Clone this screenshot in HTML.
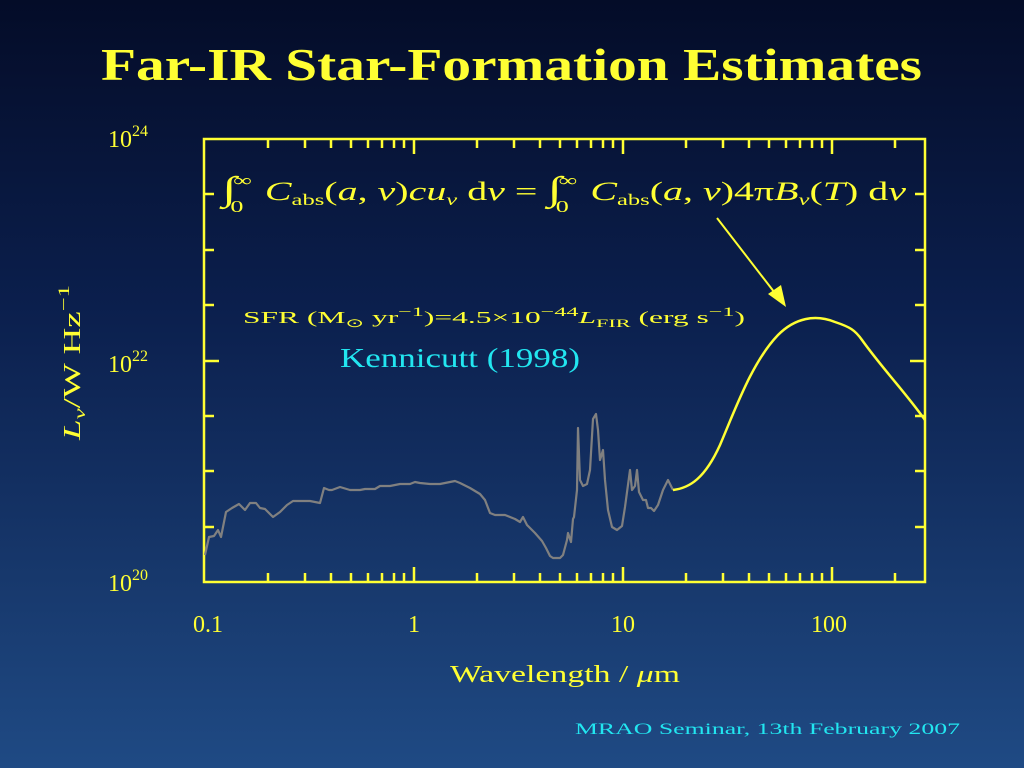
<!DOCTYPE html>
<html><head><meta charset="utf-8"><style>
html,body{margin:0;padding:0;width:1024px;height:768px;overflow:hidden}
body{background:linear-gradient(#040c28 0%,#0b1f4d 40%,#17386c 75%,#1f4a84 100%);font-family:"Liberation Serif",serif}
</style></head><body>
<svg width="1024" height="768" xmlns="http://www.w3.org/2000/svg" style="position:absolute;left:0;top:0">
<text x="101" y="80" textLength="821" lengthAdjust="spacingAndGlyphs" font-family="Liberation Serif" font-weight="bold" font-size="46" fill="#ffff33">Far-IR Star-Formation Estimates</text>
<g stroke="#ffff33" stroke-width="2.5" fill="none">
<rect x="204" y="139" width="721" height="443"/>
<path d="M268,582v-9M305,582v-9M331,582v-9M351,582v-9M368,582v-9M382,582v-9M394,582v-9M404,582v-9M414,582v-15M477,582v-9M514,582v-9M540,582v-9M560,582v-9M577,582v-9M591,582v-9M603,582v-9M613,582v-9M623,582v-15M686,582v-9M723,582v-9M749,582v-9M769,582v-9M786,582v-9M800,582v-9M812,582v-9M822,582v-9M832,582v-15M895,582v-9"/>
<path d="M268,139v9M305,139v9M331,139v9M351,139v9M368,139v9M382,139v9M394,139v9M404,139v9M414,139v15M477,139v9M514,139v9M540,139v9M560,139v9M577,139v9M591,139v9M603,139v9M613,139v9M623,139v15M686,139v9M723,139v9M749,139v9M769,139v9M786,139v9M800,139v9M812,139v9M822,139v9M832,139v15M895,139v9"/>
<path d="M204,194h10M204,250h10M204,305h10M204,361h15M204,416h10M204,471h10M204,527h10"/>
<path d="M925,194h-10M925,250h-10M925,305h-10M925,361h-15M925,416h-10M925,471h-10M925,527h-10"/>
</g>
<g font-size="24" fill="#ffff33" font-family="Liberation Serif">
<text x="108" y="147">10<tspan font-size="16" dy="-11">24</tspan></text>
<text x="108" y="372">10<tspan font-size="16" dy="-11">22</tspan></text>
<text x="108" y="591">10<tspan font-size="16" dy="-11">20</tspan></text>
<text x="208" y="632" text-anchor="middle">0.1</text>
<text x="414" y="632" text-anchor="middle">1</text>
<text x="623" y="632" text-anchor="middle">10</text>
<text x="829" y="632" text-anchor="middle">100</text>
<text x="450" y="682" textLength="230" lengthAdjust="spacingAndGlyphs">Wavelength / <tspan font-style="italic">μ</tspan>m</text>
<text transform="translate(80,440) rotate(-90)" textLength="155" lengthAdjust="spacingAndGlyphs"><tspan font-style="italic">L<tspan font-size="16" dy="5">ν</tspan></tspan><tspan dy="-5">/W Hz</tspan><tspan font-size="16" dy="-11">−1</tspan></text>
</g>
<g fill="#ffff33" font-family="Liberation Serif" font-size="26">
<text x="222" y="200" textLength="684" lengthAdjust="spacingAndGlyphs"><tspan font-size="34">∫</tspan><tspan font-size="17" dx="-2" dy="-14">∞</tspan><tspan font-size="17" dx="-14" dy="26">0</tspan><tspan dx="14" dy="-12" font-style="italic">C</tspan><tspan font-size="16" dy="5">abs</tspan><tspan dy="-5">(<tspan font-style="italic">a</tspan>, <tspan font-style="italic">ν</tspan>)<tspan font-style="italic">cu</tspan></tspan><tspan font-size="16" font-style="italic" dy="5">ν</tspan><tspan dy="-5"> d<tspan font-style="italic">ν</tspan> = </tspan><tspan font-size="34">∫</tspan><tspan font-size="17" dx="-2" dy="-14">∞</tspan><tspan font-size="17" dx="-14" dy="26">0</tspan><tspan dx="14" dy="-12" font-style="italic">C</tspan><tspan font-size="16" dy="5">abs</tspan><tspan dy="-5">(<tspan font-style="italic">a</tspan>, <tspan font-style="italic">ν</tspan>)4π<tspan font-style="italic">B</tspan></tspan><tspan font-size="16" font-style="italic" dy="5">ν</tspan><tspan dy="-5">(<tspan font-style="italic">T</tspan>) d<tspan font-style="italic">ν</tspan></tspan></text>
<text x="243" y="323" font-size="17" textLength="502" lengthAdjust="spacingAndGlyphs">SFR (M<tspan font-size="12" dy="4">⊙</tspan><tspan dy="-4"> yr</tspan><tspan font-size="13" dy="-7">−1</tspan><tspan dy="7">)=4.5×10</tspan><tspan font-size="13" dy="-7">−44</tspan><tspan dy="7" font-style="italic">L</tspan><tspan font-size="12" dy="4">FIR</tspan><tspan dy="-4"> (erg s</tspan><tspan font-size="13" dy="-7">−1</tspan><tspan dy="7">)</tspan></text>
</g>
<text x="340" y="367" textLength="240" lengthAdjust="spacingAndGlyphs" font-family="Liberation Serif" font-size="27" fill="#22e6f0">Kennicutt (1998)</text>
<polyline fill="none" stroke="#808080" stroke-width="2.2" stroke-linejoin="round" points="205,555 209,537 214,536 218,530 221,537 226,512 232,508 239,504 245,510 250,503 256,503 260,508 265,509 273,517 280,512 287,505 293,501 300,501 310,501 320,503 324,488 329,490 332,490 340,487 350,490 360,490 365,489 375,489 380,486 390,486 400,484 410,484 415,482 420,483 430,484 440,484 450,482 455,481 460,483 470,488 480,494 485,500 490,513 495,515 505,515 515,519 520,522 523,517 527,525 535,533 542,541 546,548 550,556 553,558 560,558 563,555 567,540 568,533 571,542 573,519 574,517 577,490 578,428 580,480 583,486 587,484 590,470 593,419 596,414 598,430 600,460 603,450 605,480 608,510 612,527 617,530 622,526 625,507 630,470 632,490 635,486 637,470 639,492 643,500 646,500 648,508 651,508 654,511 658,505 663,490 668,480 673,490"/>
<path fill="none" stroke="#ffff33" stroke-width="2.5" d="M673,490 C690,488 705,478 720,445 C735,410 752,362 778,335 C795,318 815,314 835,322 C850,327 855,330 862,340 C882,368 905,392 925,420"/>
<line x1="717" y1="218" x2="778" y2="297" stroke="#ffff33" stroke-width="2"/>
<polygon points="786,307 768,294 781,285" fill="#ffff33"/>
<text x="575" y="734" textLength="385" lengthAdjust="spacingAndGlyphs" font-family="Liberation Serif" font-size="16" fill="#22e6f0">MRAO Seminar, 13th February 2007</text>
</svg>
</body></html>
